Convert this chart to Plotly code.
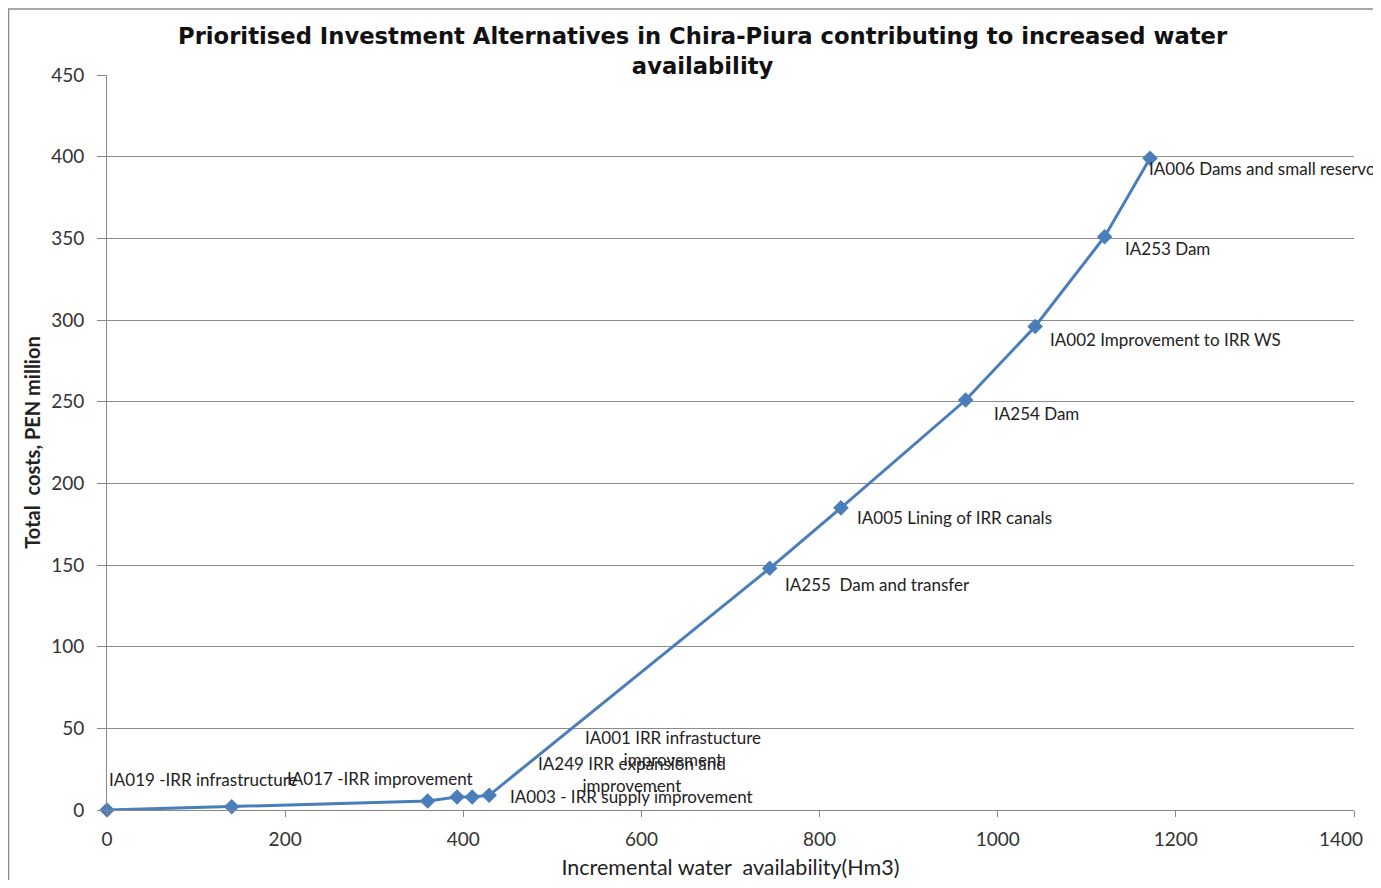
import plotly.graph_objects as go

water_hm3 = [0, 140, 360, 393, 410, 429, 744, 824, 964, 1042, 1120, 1171]
cost_pen_m = [0, 2, 5.5, 8, 8, 9, 148, 185, 251, 296, 351, 399]
labels = [
    "IA019 -IRR infrastructure",
    "IA017 -IRR improvement",
    "",
    "IA001 IRR infrastucture<br>improvement",
    "IA249 IRR expansion and<br>improvement",
    "IA003 - IRR supply improvement",
    "IA255  Dam and transfer",
    "IA005 Lining of IRR canals",
    "IA254 Dam",
    "IA002 Improvement to IRR WS",
    "IA253 Dam",
    "IA006 Dams and small reservoirs",
]
x_ticks = [0, 200, 400, 600, 800, 1000, 1200, 1400]
y_ticks = [0, 50, 100, 150, 200, 250, 300, 350, 400, 450]

# label offsets in pixels (xshift, yshift, xanchor)
label_offsets = [
    (0, 31, "left"), (53, 28, "left"), (0, 0, "left"),
    (216, 48, "center"), (160, 22, "center"), (19, -1, "left"),
    (13, -16, "left"), (14, -10, "left"), (26, -13, "left"),
    (13, -13, "left"), (18, -12, "left"), (-3, -10, "left"),
]

tick_font = dict(family="Lato, sans-serif", size=19, color="#333333")

fig = go.Figure()
fig.add_trace(go.Scatter(
    x=water_hm3, y=cost_pen_m, mode="lines+markers",
    line=dict(color="#4A7EBB", width=3),
    marker=dict(symbol="diamond", size=12, color="#4A7EBB"),
    showlegend=False, cliponaxis=False,
))

lab_font = dict(family="Lato, sans-serif", size=17, color="#222222")
for xv, yv, t, (dx, dy, anc) in zip(water_hm3, cost_pen_m, labels, label_offsets):
    if not t:
        continue
    fig.add_annotation(x=xv, y=yv, text=t, showarrow=False, xanchor=anc, yanchor="middle",
                       xshift=dx, yshift=dy, font=lab_font, align="center")

# last x tick label is nudged left (as in the original) so it stays inside the chart
x_ticktext = [str(v) for v in x_ticks[:-1]] + [""]
fig.add_annotation(x=x_ticks[-1], xref="x", y=0, yref="paper", text=str(x_ticks[-1]),
                   showarrow=False, xanchor="center", yanchor="top", xshift=-13, yshift=-15,
                   font=tick_font)

# chart title (as annotation for reliable multi-line placement)
fig.add_annotation(
    xref="paper", yref="paper", x=0.478, y=1.0333, xanchor="center", yanchor="middle",
    text="<b>Prioritised Investment Alternatives in Chira-Piura contributing to increased water<br>availability</b>",
    showarrow=False, align="center",
    font=dict(family="DejaVu Sans, sans-serif", size=22.7, color="#111111"))

fig.add_shape(type="rect", xref="paper", yref="paper", x0=-0.0790, x1=1.2, y0=-0.2, y1=1.0898,
              line=dict(color="#8a8a8a", width=1.5), layer="below")

fig.update_layout(
    width=1365, height=872,
    margin=dict(l=99, r=19, t=67, b=70),
    paper_bgcolor="white", plot_bgcolor="white",
    xaxis=dict(range=[0, 1400], tickvals=x_ticks, ticktext=x_ticktext, automargin=False,
               showgrid=False, zeroline=False, showline=True, linecolor="#888888", linewidth=1,
               ticks="outside", ticklen=6, tickcolor="#888888", ticklabelstandoff=6,
               tickfont=tick_font,
               title=dict(text="Incremental water  availability(Hm3)", standoff=16,
                          font=dict(family="Lato, sans-serif", size=21.5, color="#222222"))),
    yaxis=dict(range=[0, 450], tickvals=y_ticks, automargin=False,
               showgrid=True, gridcolor="#8c8c8c", gridwidth=1, zeroline=False,
               showline=True, linecolor="#888888", linewidth=1,
               ticks="outside", ticklen=9, tickcolor="#888888", ticklabelstandoff=9,
               tickfont=tick_font,
               title=dict(text="<b>Total  costs, PEN million</b>", standoff=5,
                          font=dict(family="Lato, sans-serif", size=20, color="#222222"))),
)

fig.write_html("out.html")
